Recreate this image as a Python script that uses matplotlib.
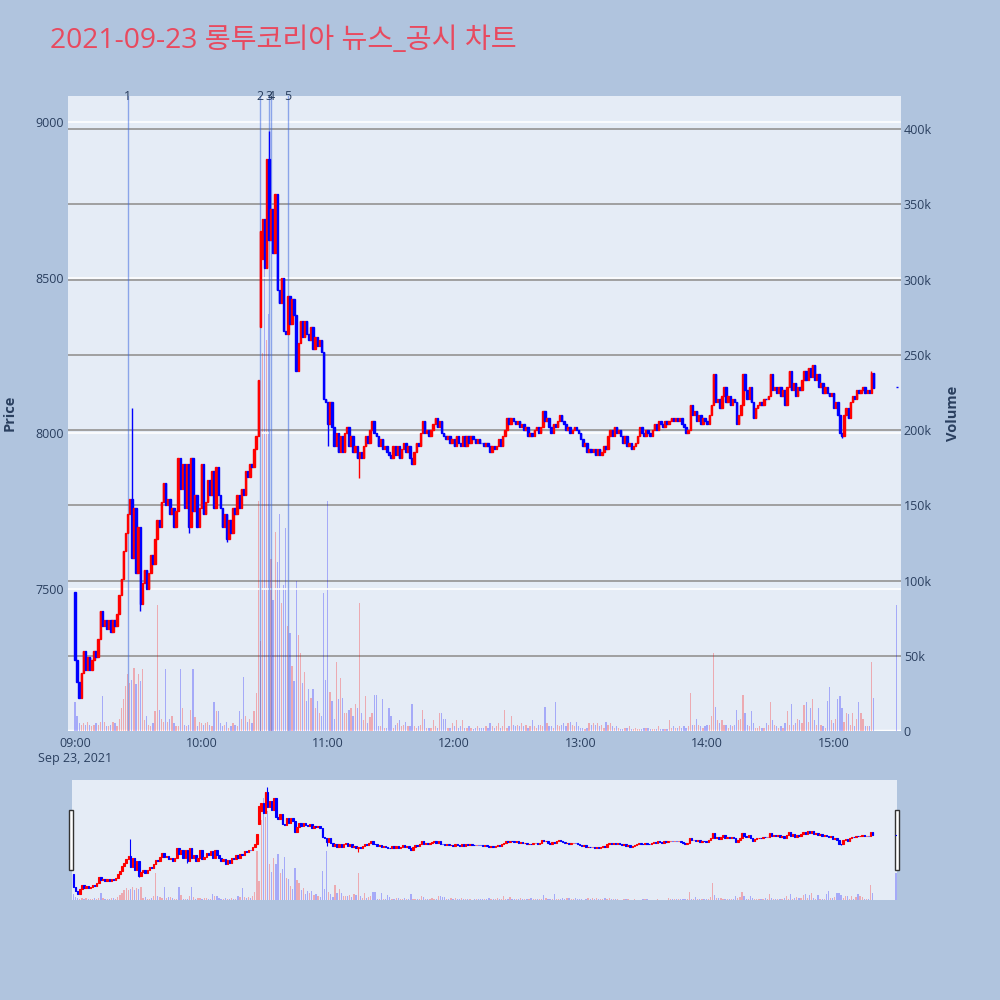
# ===============================
# 롱투코리아 2021-09-23 minute chart (candles + volume + range slider)
# ===============================

import numpy as np
import matplotlib.pyplot as plt
import matplotlib.transforms as mtransforms
from matplotlib.patches import Rectangle

plt.rcParams['font.family'] = ['Open Sans', 'Noto Sans CJK KR', 'DejaVu Sans']

# -------------------------------
# DATA  (1-minute bars, index = minutes after 09:00)
# -------------------------------
TITLE = "2021-09-23 롱투코리아 뉴스_공시 차트"

FIRST_OPEN = 7490
CLOSE = [
    7270, 7200, 7150, 7230, 7300, 7240, 7280, 7240, 7270, 7300,
    7280, 7340, 7430, 7380, 7400, 7370, 7400, 7360, 7400, 7380,
    7420, 7480, 7530, 7620, 7680, 7740, 7790, 7600, 7760, 7550,
    7700, 7450, 7520, 7560, 7500, 7550, 7610, 7580, 7660, 7720,
    7700, 7780, 7840, 7770, 7790, 7740, 7760, 7700, 7750, 7920,
    7820, 7900, 7760, 7900, 7700, 7920, 7750, 7800, 7700, 7760,
    7900, 7740, 7780, 7850, 7800, 7880, 7760, 7890, 7800, 7760,
    7700, 7740, 7660, 7720, 7680, 7760, 7740, 7800, 7760, 7820,
    7800, 7880, 7860, 7900, 7890, 7950, 7990, 8170, 8650, 8690,
    8530, 8880, 8620, 8720, 8580, 8770, 8460, 8420, 8500, 8330,
    8320, 8440, 8350, 8430, 8380, 8200, 8290, 8360, 8310, 8360,
    8320, 8300, 8340, 8270, 8310, 8280, 8300, 8260, 8110, 8100,
    8030, 8100, 8020, 7960, 8000, 7940, 7990, 7940, 8000, 8020,
    7960, 7990, 7940, 7960, 7920, 7940, 7920, 7960, 7990, 7970,
    8010, 8040, 8000, 7990, 7960, 7980, 7950, 7960, 7940, 7930,
    7920, 7960, 7930, 7960, 7920, 7950, 7970, 7940, 7960, 7920,
    7900, 7940, 7970, 7960, 8000, 8040, 8000, 8010, 7990, 8010,
    8030, 8050, 8020, 8040, 8000, 7990, 7980, 7990, 7970, 7980,
    7960, 7990, 7970, 7960, 7990, 7960, 7990, 7970, 7990, 7980,
    7970, 7980, 7970, 7970, 7960, 7970, 7960, 7940, 7960, 7950,
    7960, 7980, 7960, 7990, 8010, 8050, 8030, 8050, 8040, 8030,
    8040, 8020, 8030, 8010, 8020, 7990, 8000, 7990, 8010, 8020,
    8000, 8020, 8070, 8040, 8050, 8020, 8000, 8030, 8020, 8040,
    8060, 8040, 8030, 8010, 8020, 8000, 8010, 8020, 8010, 8000,
    7980, 7960, 7970, 7940, 7950, 7940, 7950, 7930, 7950, 7930,
    7940, 7960, 7950, 7990, 8010, 7990, 8020, 8000, 8010, 7990,
    7970, 7990, 7960, 7970, 7950, 7960, 7970, 7990, 8020, 8000,
    7990, 8010, 8000, 7990, 8010, 8030, 8010, 8040, 8030, 8020,
    8040, 8030, 8040, 8050, 8040, 8050, 8040, 8050, 8030, 8020,
    8000, 8010, 8090, 8060, 8070, 8040, 8060, 8030, 8050, 8040,
    8030, 8060, 8090, 8190, 8100, 8110, 8080, 8120, 8150, 8100,
    8120, 8090, 8110, 8100, 8030, 8060, 8090, 8190, 8140, 8110,
    8150, 8100, 8050, 8080, 8090, 8100, 8090, 8110, 8110, 8120,
    8190, 8140, 8150, 8130, 8150, 8120, 8140, 8090, 8150, 8200,
    8140, 8160, 8120, 8150, 8140, 8170, 8200, 8170, 8210, 8180,
    8220, 8170, 8190, 8150, 8160, 8130, 8150, 8130, 8120, 8130,
    8080, 8100, 8060, 8000, 7990, 8060, 8080, 8050, 8100, 8120,
    8110, 8140, 8130, 8140, 8150, 8130, 8140, 8130, 8195, 8145,
]
OPEN_FIX = {88: 8340, 89: 8560}
HIGH_FIX = {27: 8080, 90: 8690, 92: 8970, 303: 8190, 378: 8200}
LOW_FIX = {31: 7430, 54: 7680, 72: 7650, 105: 8200, 120: 7960, 135: 7857, 364: 7985}

VOLUME_K = [
    19, 10, 5, 4, 5, 4, 6, 4, 3, 4,
    5, 4, 6, 23, 6, 3, 3, 4, 6, 5,
    3, 8, 15, 21, 30, 38, 32, 34, 42, 31,
    38, 33, 41, 7, 10, 4, 3, 5, 13, 84,
    14, 8, 6, 41, 6, 8, 10, 5, 3, 3,
    41, 15, 4, 3, 4, 14, 41, 9, 3, 6,
    5, 4, 5, 6, 4, 3, 19, 13, 13, 5,
    3, 4, 6, 2, 3, 5, 4, 3, 13, 8,
    36, 10, 6, 8, 5, 13, 25, 153, 60, 251,
    320, 260, 277, 114, 87, 132, 112, 144, 85, 97,
    135, 70, 65, 43, 33, 100, 64, 52, 32, 39,
    20, 28, 22, 28, 15, 20, 12, 10, 92, 34,
    153, 26, 20, 8, 46, 21, 35, 22, 12, 12,
    14, 15, 10, 18, 15, 85, 12, 7, 23, 5,
    9, 12, 24, 24, 3, 3, 21, 2, 2, 15,
    10, 2, 4, 5, 7, 3, 4, 6, 3, 3,
    18, 3, 2, 3, 4, 14, 8, 2, 2, 2,
    7, 3, 2, 12, 12, 8, 8, 2, 2, 5,
    3, 7, 2, 3, 7, 2, 2, 3, 2, 1,
    2, 3, 2, 2, 2, 3, 2, 5, 3, 2,
    3, 5, 2, 3, 14, 2, 3, 10, 4, 3,
    4, 3, 5, 3, 4, 2, 3, 7, 3, 2,
    4, 4, 3, 16, 5, 3, 3, 2, 19, 4,
    3, 4, 5, 3, 5, 6, 4, 3, 6, 3,
    2, 2, 1, 2, 5, 4, 5, 4, 5, 3,
    4, 2, 6, 4, 5, 3, 2, 3, 2, 1,
    1, 2, 2, 3, 1, 1, 2, 1, 1, 1,
    2, 2, 2, 1, 1, 1, 1, 3, 1, 1,
    1, 1, 7, 2, 3, 2, 2, 3, 2, 3,
    2, 3, 25, 4, 4, 8, 4, 3, 2, 3,
    4, 4, 10, 52, 16, 7, 5, 7, 4, 4,
    2, 4, 3, 4, 14, 7, 8, 24, 12, 4,
    3, 13, 5, 2, 2, 3, 2, 2, 5, 4,
    19, 7, 4, 3, 2, 3, 2, 5, 13, 4,
    18, 4, 5, 8, 7, 5, 17, 19, 6, 15,
    21, 7, 4, 15, 4, 3, 2, 20, 29, 7,
    5, 8, 21, 23, 15, 6, 12, 11, 4, 12,
    3, 8, 19, 12, 8, 3, 3, 3, 46, 22,
]

# closing auction at 15:30
AUCTION_MIN = 390
AUCTION_PRICE = 8150
AUCTION_VOL_K = 84

NEWS_MIN = [25, 88, 92, 93, 101]
NEWS_LABELS = ["1", "2", "3", "4", "5"]

HOUR_TICKS = [0, 60, 120, 180, 240, 300, 360]
HOUR_LABELS = ["09:00\nSep 23, 2021", "10:00", "11:00", "12:00", "13:00", "14:00", "15:00"]

PRICE_TICKS = [7500, 8000, 8500, 9000]
VOL_TICKS = [0, 50000, 100000, 150000, 200000, 250000, 300000, 350000, 400000]
VOL_LABELS = ["0", "50k", "100k", "150k", "200k", "250k", "300k", "350k", "400k"]

# -------------------------------
# STYLE
# -------------------------------
PAPER = "#B0C4DE"
PLOT_BG = "#E5ECF6"
TEXT = "#2A3F5F"
TITLE_COLOR = "#E84A5F"
RED = "#FF0000"
BLUE = "#0000FF"

# -------------------------------
# BUILD OHLC
# -------------------------------
c = np.array(CLOSE + [AUCTION_PRICE], dtype=float)
o = np.array([FIRST_OPEN] + CLOSE[:-1] + [AUCTION_PRICE], dtype=float)
for k, v in OPEN_FIX.items():
    o[k] = v
m = np.r_[np.arange(len(CLOSE)), AUCTION_MIN]
h = np.maximum(o, c)
l = np.minimum(o, c)
for k, v in HIGH_FIX.items():
    h[k] = max(h[k], v)
for k, v in LOW_FIX.items():
    l[k] = min(l[k], v)
vol = np.array(VOLUME_K + [AUCTION_VOL_K], dtype=float) * 1000

up = c > o
col = np.where(up, RED, BLUE)
vcol = [(1, 0, 0, 0.28) if u else (0, 0, 1, 0.28) for u in up]


def draw_candles(ax, body_w, edge_lw, wick_lw):
    ax.vlines(m, l, h, colors=col, lw=wick_lw, zorder=3)
    ax.bar(m, np.abs(c - o), bottom=np.minimum(o, c), width=body_w,
           color=col, edgecolor=col, linewidth=edge_lw, zorder=4)


def make_pair(rect):
    ax_p = fig.add_axes(rect)
    ax_v = ax_p.twinx()
    ax_p.set_zorder(ax_v.get_zorder() + 1)
    ax_p.patch.set_visible(False)
    ax_v.patch.set_visible(True)
    ax_v.patch.set_facecolor(PLOT_BG)
    for a in (ax_p, ax_v):
        for s in a.spines.values():
            s.set_visible(False)
    return ax_p, ax_v


# -------------------------------
# PLOT
# -------------------------------
fig = plt.figure(figsize=(10, 10), dpi=100, facecolor=PAPER)

# main panel
ax_p, ax_v = make_pair([0.068, 0.269, 0.833, 0.635])

ax_v.bar(m, vol, width=0.6, color=vcol, linewidth=0, zorder=2)
ax_v.set_ylim(0, 422000)
ax_v.set_yticks(VOL_TICKS, VOL_LABELS)
ax_v.grid(axis="y", color="#9A9A9A", lw=1.3)
ax_v.set_axisbelow(True)
ax_v.axhline(0, color="white", lw=2.5, zorder=1)
ax_v.tick_params(axis="y", length=0, pad=2, labelsize=9, colors=TEXT)

draw_candles(ax_p, 0.7, 1.0, 1.0)
ax_p.set_ylim(7043, 9084)
ax_p.set_xlim(-3.3, 392)
ax_p.set_yticks(PRICE_TICKS)
ax_p.grid(axis="y", color="white", lw=1.2, zorder=0)
ax_p.set_axisbelow(True)
ax_p.set_xticks(HOUR_TICKS, HOUR_LABELS)
ax_p.tick_params(axis="both", length=0, labelsize=9, colors=TEXT)
ax_p.tick_params(axis="y", pad=3)
ax_p.tick_params(axis="x", pad=4)

trans = mtransforms.blended_transform_factory(ax_p.transData, ax_p.transAxes)
for t, lab in zip(NEWS_MIN, NEWS_LABELS):
    ax_p.axvline(t, color=(0.25, 0.41, 0.88, 0.55), lw=1, zorder=2)
    ax_p.text(t, 1.0, lab, transform=trans, ha="center", va="center",
              fontsize=9, color=TEXT)

# range slider
s_p, s_v = make_pair([0.072, 0.100, 0.825, 0.120])
s_v.bar(m, vol, width=0.6, color=vcol, linewidth=0)
s_v.set_ylim(0, 375000)
draw_candles(s_p, 0.7, 0.8, 0.8)
s_p.set_ylim(7043, 9084)
s_p.set_xlim(-0.7, 390.5)
for a in (s_p, s_v):
    a.set_xticks([])
    a.set_yticks([])

for x0 in (0.069, 0.895):
    fig.add_artist(Rectangle((x0, 0.130), 0.004, 0.060, transform=fig.transFigure,
                             facecolor="white", edgecolor="#333333", lw=1))

# text
fig.text(0.05, 0.959, TITLE, fontsize=20.3, color=TITLE_COLOR, ha="left", va="center")
fig.text(0.010, 0.587, "Price", rotation=90, ha="center", va="center",
         fontsize=10.5, fontweight="bold", color=TEXT)
fig.text(0.953, 0.587, "Volume", rotation=90, ha="center", va="center",
         fontsize=10.5, fontweight="bold", color=TEXT)

fig.savefig("out.png", dpi=100, facecolor=PAPER)
